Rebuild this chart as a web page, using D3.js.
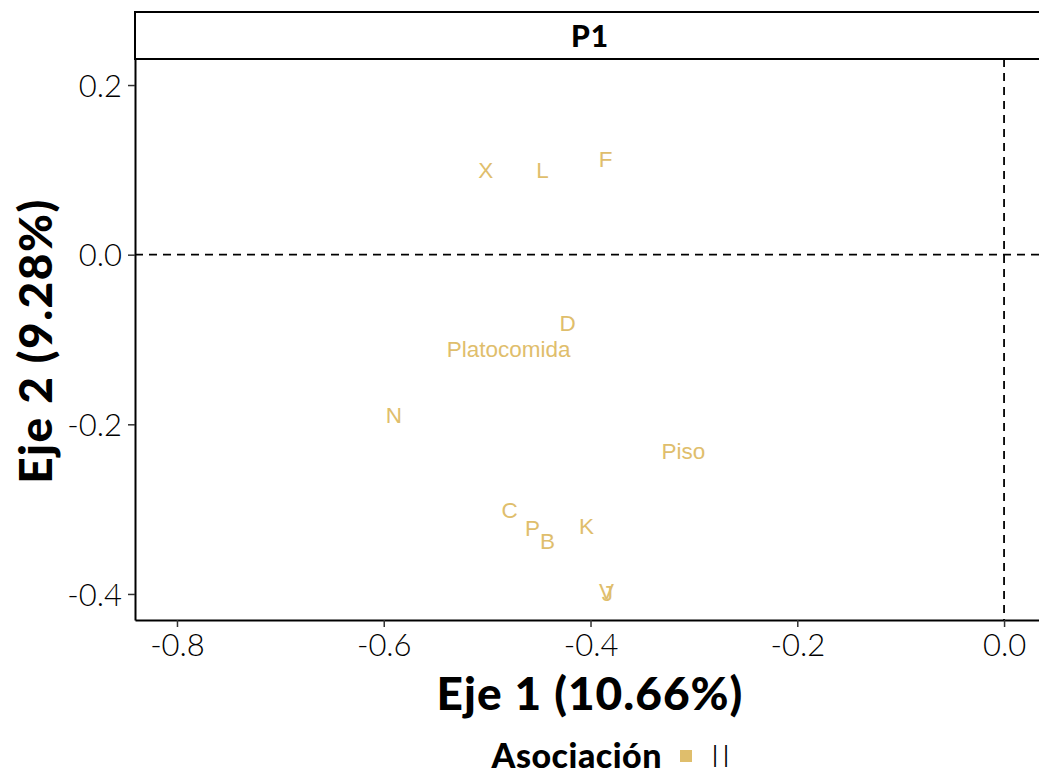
<!DOCTYPE html>
<html><head><meta charset="utf-8">
<script src="https://cdn.jsdelivr.net/npm/d3@7/dist/d3.min.js"></script>
<style>body{margin:0;background:#fff;overflow:hidden}</style>
</head><body>
<svg id="c" width="1039" height="776"></svg>
<script>
const labels = ["X","L","F","D","Platocomida","N","Piso","C","P","B","K","V","J"];
const dim1 =   [-0.5014,-0.4464,-0.3855,-0.4222,-0.4792,-0.5903,-0.3101,-0.4783,-0.4560,-0.4415,-0.4039,-0.3845,-0.3836];
const dim2 =   [0.0991,0.0991,0.1121,-0.0802,-0.1109,-0.1888,-0.2313,-0.3009,-0.3221,-0.3375,-0.3198,-0.3970,-0.3985];
const xTicks = [-0.8,-0.6,-0.4,-0.2,0.0];
const yTicks = [0.2,0.0,-0.2,-0.4];
const facet = "P1";
const legendTitle = "Asociación";
const legendLevels = ["II"];
const color = "#DFBE6C";

const svg = d3.select("#c");
const L=135, R=1045, T=59, B=620;
const x = d3.scaleLinear().domain([-0.8406, 0.0396]).range([L,R]);
const y = d3.scaleLinear().domain([-0.4307, 0.2307]).range([B,T]);

// strip
svg.append("rect").attr("x",L).attr("y",12).attr("width",R-L+10).attr("height",T-12)
  .attr("fill","#fff").attr("stroke","#000").attr("stroke-width",2);
svg.append("text").attr("x",590).attr("y",36).attr("dy","0.36em").attr("text-anchor","middle")
  .attr("font-family","Lato").attr("font-weight",900).attr("font-size",30).attr("letter-spacing",1).text(facet);

// reference lines
svg.append("line").attr("x1",L).attr("x2",R).attr("y1",y(0)).attr("y2",y(0))
  .attr("stroke","#000").attr("stroke-width",1.8).attr("stroke-dasharray","8,6");
svg.append("line").attr("x1",x(0)).attr("x2",x(0)).attr("y1",T).attr("y2",B)
  .attr("stroke","#000").attr("stroke-width",1.8).attr("stroke-dasharray","8,6");

// labels
svg.append("g").selectAll("text").data(labels).join("text")
  .attr("x",(d,i)=>x(dim1[i])).attr("y",(d,i)=>y(dim2[i])).attr("dy","0.35em")
  .attr("text-anchor","middle").attr("font-family","Liberation Sans").attr("font-size",22.5)
  .attr("fill",color).text(d=>d);

// axes
const xa = svg.append("g").attr("transform",`translate(0,${B})`)
  .call(d3.axisBottom(x).tickValues(xTicks).tickFormat(d3.format(".1f")).tickSize(7).tickSizeOuter(0));
const ya = svg.append("g").attr("transform",`translate(${L},0)`)
  .call(d3.axisLeft(y).tickValues(yTicks).tickFormat(d3.format(".1f")).tickSize(7).tickSizeOuter(0));
[xa,ya].forEach(a=>{
  a.select(".domain").attr("stroke","#000").attr("stroke-width",2);
  a.selectAll(".tick line").attr("stroke","#333").attr("stroke-width",1.5);
  a.selectAll(".tick text").attr("font-family","Lato").attr("font-weight",300)
   .attr("font-size",31).attr("fill","#000");
});
xa.selectAll(".tick text").attr("dy","0.85em");
ya.selectAll(".tick text").attr("dx","-3").attr("dy","0.36em");
svg.selectAll(".tick text").text(function(){return this.textContent.replace("−","-");});

// axis titles
svg.append("text").attr("x",590).attr("y",693).attr("dy","0.36em").attr("text-anchor","middle")
  .attr("font-family","Lato").attr("font-weight",900).attr("font-size",46).attr("letter-spacing",1).text("Eje 1 (10.66%)");
svg.append("text").attr("transform","translate(35,341) rotate(-90)").attr("dy","0.36em").attr("text-anchor","middle")
  .attr("font-family","Lato").attr("font-weight",900).attr("font-size",46).attr("letter-spacing",1.5).text("Eje 2 (9.28%)");

// legend
svg.append("text").attr("x",662).attr("y",756).attr("dy","0.36em").attr("text-anchor","end")
  .attr("font-family","Lato").attr("font-weight",900).attr("font-size",34).attr("letter-spacing",0.5).text(legendTitle);
svg.append("rect").attr("x",680).attr("y",750).attr("width",12).attr("height",12).attr("fill",color);
svg.append("text").attr("x",711).attr("y",756).attr("dy","0.36em").attr("letter-spacing",3)
  .attr("font-family","Lato").attr("font-weight",300).attr("font-size",31).text(legendLevels[0]);
</script>
</body></html>
